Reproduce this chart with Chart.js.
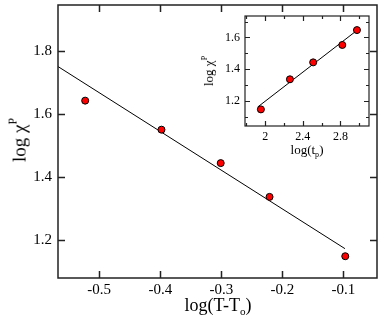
<!DOCTYPE html>
<html>
<head>
<meta charset="utf-8">
<script src="https://cdn.jsdelivr.net/npm/chart.js@4/dist/chart.umd.min.js"></script>
<style>
  html, body { margin: 0; padding: 0; background: #fff; }
  #wrap { position: relative; width: 382px; height: 324px; font-family: "Liberation Serif", "DejaVu Serif", serif; color: #000; }
  #main { position: absolute; left: 0; top: 0; }
  #inset { position: absolute; left: 198px; top: 11px; }
  .ttl { position: absolute; white-space: nowrap; line-height: 1; }
  .ttl sup, .ttl sub { font-size: 62%; }
  .ttl sup { vertical-align: 0.75em; }
  .ttl sub { vertical-align: -0.35em; }
</style>
</head>
<body>
<div id="wrap">
  <canvas id="main" width="382" height="324"></canvas>
  <canvas id="inset" width="176" height="154"></canvas>
  <div class="ttl" style="left:18px;top:140px;font-size:19px;transform:translate(-50%,-50%) rotate(-90deg);">log χ<sup>P</sup></div>
  <div class="ttl" style="left:218px;top:307px;font-size:18px;transform:translate(-50%,-50%);">log(T-T<sub>o</sub>)</div>
  <div class="ttl" style="left:208px;top:71px;font-size:13px;transform:translate(-50%,-50%) rotate(-90deg);">log χ<sup>P</sup></div>
  <div class="ttl" style="left:307px;top:151px;font-size:13px;transform:translate(-50%,-50%);">log(t<sub>p</sub>)</div>
</div>
<script>
// main panel: log chi^P vs log(T - To)
const mainX = [-0.523, -0.398, -0.301, -0.221, -0.097];
const mainY = [1.643, 1.551, 1.445, 1.338, 1.150];
const mainFitX = [-0.5675, -0.0975];
const mainFitY = [1.751, 1.174];

// inset: log chi^P vs log(tp)
const insetX = [1.954, 2.263, 2.51, 2.82, 2.976];
const insetY = [1.145, 1.335, 1.442, 1.552, 1.646];
const insetFitX = [1.92, 2.976];
const insetFitY = [1.16, 1.644];

const pts = (xs, ys) => xs.map((x, i) => ({x, y: ys[i]}));
const isMajor = (v, step) => Math.abs(v / step - Math.round(v / step)) < 1e-6;

// box frame + inward ticks on all four sides
const framePlugin = {
    id: 'frame',
    beforeDraw(chart, args, opts) {
        if (!opts.bg) return;
        const {ctx, chartArea: a} = chart;
        ctx.save();
        ctx.fillStyle = '#fff';
        ctx.fillRect(a.left, a.top, a.right - a.left, a.bottom - a.top);
        ctx.restore();
    },
    afterDraw(chart, args, opts) {
        const {ctx, chartArea: a, scales: {x, y}} = chart;
        ctx.save();
        ctx.strokeStyle = '#222';
        ctx.lineWidth = opts.lw;
        ctx.strokeRect(a.left, a.top, a.right - a.left, a.bottom - a.top);
        ctx.beginPath();
        x.ticks.forEach(t => {
            const px = Math.round(x.getPixelForValue(t.value)) + 0.5;
            const len = isMajor(t.value, opts.xMajor) ? opts.major : opts.minor;
            ctx.moveTo(px, a.bottom); ctx.lineTo(px, a.bottom - len);
            ctx.moveTo(px, a.top); ctx.lineTo(px, a.top + len);
        });
        y.ticks.forEach(t => {
            const py = Math.round(y.getPixelForValue(t.value)) + 0.5;
            const len = isMajor(t.value, opts.yMajor) ? opts.major : opts.minor;
            ctx.moveTo(a.left, py); ctx.lineTo(a.left + len, py);
            ctx.moveTo(a.right, py); ctx.lineTo(a.right - len, py);
        });
        ctx.stroke();
        ctx.restore();
    }
};

function axis(min, max, step, major, size, fontSize, dim, pad) {
    return {
        type: 'linear',
        min, max,
        grid: {display: false, drawTicks: false},
        border: {display: false},
        ticks: {
            stepSize: step,
            includeBounds: false,
            padding: pad,
            color: '#000',
            font: {family: 'Liberation Serif', size: fontSize},
            maxRotation: 0,
            autoSkip: false,
            callback: v => isMajor(v, major) ? String(parseFloat(v.toFixed(2))) : ''
        },
        afterFit: s => {
            s[dim] = size;
            // keep end labels from pushing the plot area inwards
            s.paddingTop = s.paddingBottom = s.paddingLeft = s.paddingRight = 0;
        }
    };
}

function makeChart(id, xs, ys, fx, fy, opts) {
    return new Chart(document.getElementById(id), {
        type: 'scatter',
        data: {
            datasets: [
                {
                    data: pts(xs, ys),
                    backgroundColor: '#ff0000',
                    borderColor: '#000',
                    borderWidth: 1,
                    pointRadius: opts.r,
                    order: 0
                },
                {
                    data: pts(fx, fy),
                    showLine: true,
                    borderColor: '#000',
                    borderWidth: 1,
                    pointRadius: 0,
                    order: 1
                }
            ]
        },
        options: {
            responsive: false,
            animation: false,
            devicePixelRatio: 1,
            layout: {padding: opts.padding},
            plugins: {legend: {display: false}, tooltip: {enabled: false}, frame: opts.frame},
            scales: {x: opts.x, y: opts.y}
        },
        plugins: [framePlugin]
    });
}

makeChart('main', mainX, mainY, mainFitX, mainFitY, {
    r: 3.5,
    padding: {left: 0, top: 2, right: 5, bottom: 0},
    frame: {lw: 1.5, major: 7, minor: 7, xMajor: 0.1, yMajor: 0.2},
    x: axis(-0.5675, -0.045, 0.1, 0.1, 46, 15, 'height', 3),
    y: axis(1.081, 1.946, 0.2, 0.2, 58, 15, 'width', 6)
});

makeChart('inset', insetX, insetY, insetFitX, insetFitY, {
    r: 3.5,
    padding: {left: 0, top: 2, right: 2, bottom: 0},
    frame: {bg: true, lw: 1.2, major: 5, minor: 3, xMajor: 0.4, yMajor: 0.2},
    x: axis(1.785, 3.104, 0.2, 0.4, 39, 12, 'height', 4),
    y: axis(1.04, 1.735, 0.1, 0.2, 47, 12, 'width', 5)
});
</script>
</body>
</html>
